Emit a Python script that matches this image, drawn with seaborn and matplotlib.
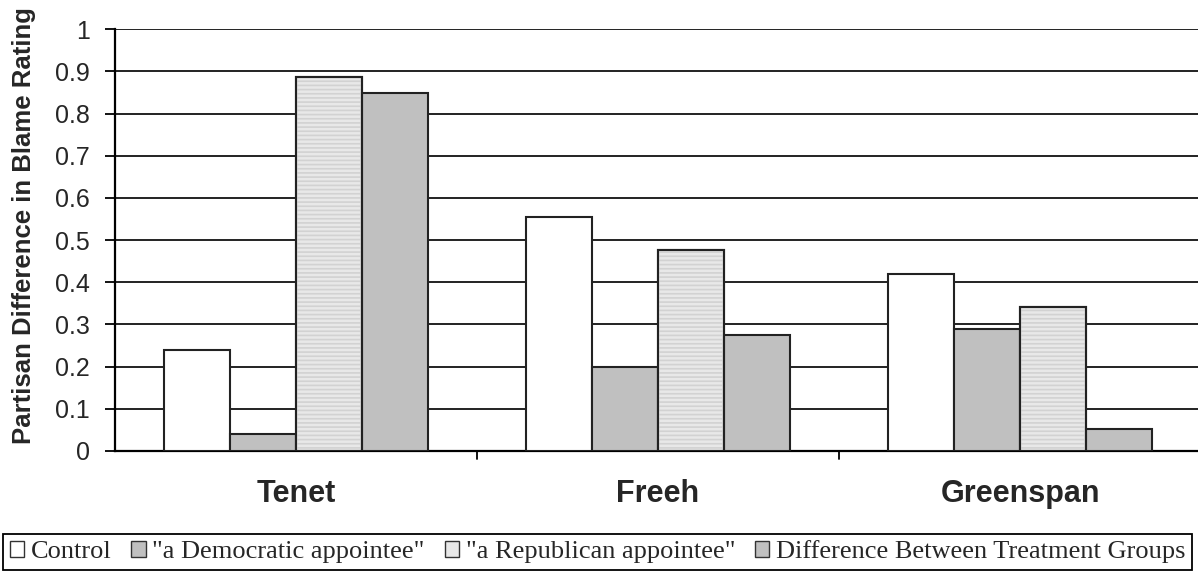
import matplotlib
matplotlib.use('Agg')
import matplotlib.pyplot as plt
from matplotlib.patches import Patch, Rectangle
import pandas as pd
import seaborn as sns

# data
people = ['Tenet', 'Freeh', 'Greenspan']
groups = ['Control', '"a Democratic appointee"', '"a Republican appointee"',
          'Difference Between Treatment Groups']
control = [0.240, 0.555, 0.420]
democratic = [0.040, 0.199, 0.289]
republican = [0.886, 0.477, 0.341]
difference = [0.849, 0.275, 0.051]

df = pd.DataFrame({
    'person': people * 4,
    'group': [g for g in groups for _ in people],
    'value': control + democratic + republican + difference,
})

sns.set_style('white')
plt.rcParams['font.family'] = ['Liberation Sans', 'DejaVu Sans']
plt.rcParams['hatch.linewidth'] = 1.2

colors = ['#ffffff', '#c0c0c0', '#e8e8e8', '#c0c0c0']
fig = plt.figure(figsize=(11.98, 5.77), dpi=100)
ax = fig.add_axes([115 / 1198, 1 - 451 / 577, 1086 / 1198, (451 - 29.3) / 577])

sns.barplot(data=df, x='person', y='value', hue='group', hue_order=groups, order=people,
            palette=colors, width=0.73, gap=0, edgecolor='#222222', linewidth=1.5,
            legend=False, ax=ax, zorder=3)
for cont, col in zip(ax.containers, colors):
    for bar in cont:
        bar.set_facecolor(col)
# light horizontal stripes on the republican bars
for bar in ax.containers[2]:
    ax.add_patch(Rectangle(bar.get_xy(), bar.get_width(), bar.get_height(), fill=False,
                           hatch='----', edgecolor='#d2d2d2', linewidth=0, zorder=3.5))
    ax.add_patch(Rectangle(bar.get_xy(), bar.get_width(), bar.get_height(), fill=False,
                           edgecolor='#222222', linewidth=1.5, zorder=3.6))

ax.set_ylim(0, 1)
ax.set_xlim(-0.5, 2.5)
ax.set_yticks([i / 10 for i in range(11)])
ax.set_yticklabels(['0'] + [f'0.{i}' for i in range(1, 10)] + ['1'], fontsize=18)
ax.yaxis.grid(True, color='#111111', linewidth=1.3, zorder=0)
ax.set_axisbelow(True)
ax.tick_params(axis='y', direction='out', length=7, width=1.3, color='black', left=True, pad=11)
ax.tick_params(axis='x', length=0, pad=20)
ax.set_xticklabels(people, fontsize=22, fontweight='bold')
for b in [0.5, 1.5]:
    ax.plot([b, b], [0, -0.02], color='black', lw=1.3, clip_on=False)
ax.set_xlabel('')
ax.set_ylabel('Partisan Difference in Blame Rating', fontsize=18.5, fontweight='bold')
ax.yaxis.set_label_coords(-0.073, 0.535)
for s in ['top', 'right']:
    ax.spines[s].set_visible(False)
for s in ['left', 'bottom']:
    ax.spines[s].set_color('black')
    ax.spines[s].set_linewidth(1.6)

handles = [Patch(facecolor=c, edgecolor='#333333', linewidth=1.0) for c in colors]
leg = fig.legend(handles, groups, loc='lower left', bbox_to_anchor=(3 / 1198, 1 - 570 / 577),
                 ncol=4, frameon=True, fancybox=False, edgecolor='black', framealpha=1,
                 prop={'family': 'Liberation Serif', 'size': 19},
                 handlelength=0.55, handleheight=0.55, handletextpad=0.25, columnspacing=0.75,
                 borderpad=0.25, borderaxespad=0)
leg.get_frame().set_linewidth(1.3)

fig.savefig('out.png', dpi=100)
